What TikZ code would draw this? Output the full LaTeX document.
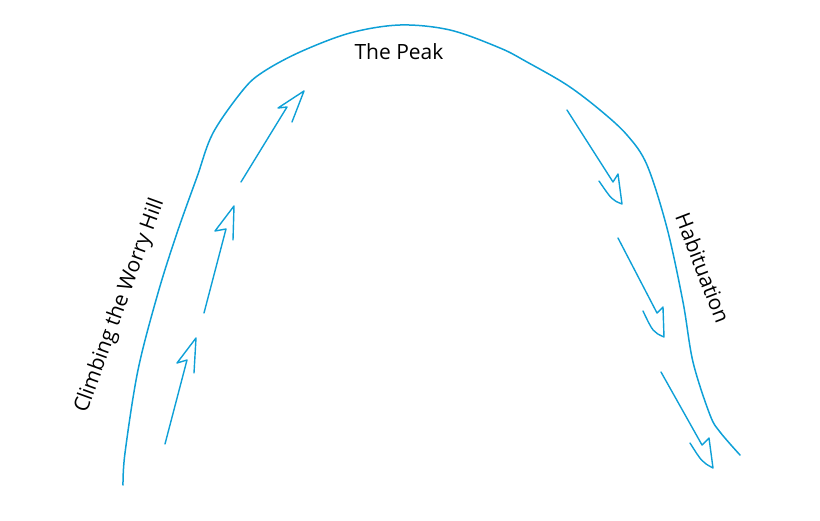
\documentclass[tikz,border=0pt]{standalone}
\usepackage{fontspec}
\setmainfont{Open Sans}
\usetikzlibrary{positioning}
\definecolor{hillblue}{RGB}{14,160,215}

\tikzset{
  hill/.style={draw=hillblue, line width=1.5pt, line cap=round, line join=round},
  sketcharrow/.style={draw=hillblue, line width=1.4pt, line cap=round, line join=round},
  lbl/.style={font=\fontsize{21}{24}\selectfont, inner sep=0pt}
}

\begin{document}
\begin{tikzpicture}[x=1pt, y=-1pt]
\useasboundingbox (0,0) rectangle (820,520);
% the hill
\draw[hill] plot[smooth, tension=0.55] coordinates {(123,485) (125,453) (138,370) (158,293) (177,233) (197,177) (213,133) (243,90) (263,72) (300,52) (350,33) (400,25) (450,30) (500,48) (527,62) (567,85) (600,110) (627,135) (647,165) (667,228) (683,302) (693,362) (710,415) (720,432) (740,455)};
% labels
\node[lbl, rotate=70] (climb) at (120,306) {Climbing the Worry Hill};
\node[lbl] (peak) at (399,52) {The Peak};
\node[lbl, rotate=-69] (habit) at (703,268) {Habituation};
% arrows going up
\draw[sketcharrow] (165,444) -- (187,360) -- (177,363) -- (196,338) -- (194,373);
\draw[sketcharrow] (204,313) -- (226,229) -- (215,231) -- (234,206) -- (233,240);
\draw[sketcharrow] (241,182) -- (287,107) -- (278,108) -- (304,91) -- (292,122);
% arrows going down
\draw[sketcharrow] (567,110) -- (613,182) -- (618,174) -- (622,204) .. controls (612,200) .. (599,181);
\draw[sketcharrow] (618,238) -- (657,313) -- (663,307) -- (664,337) .. controls (653,332) .. (643,311);
\draw[sketcharrow] (661,372) -- (702,445) -- (709,438) -- (713,468) .. controls (702,462) .. (690,443);
\end{tikzpicture}
\end{document}
